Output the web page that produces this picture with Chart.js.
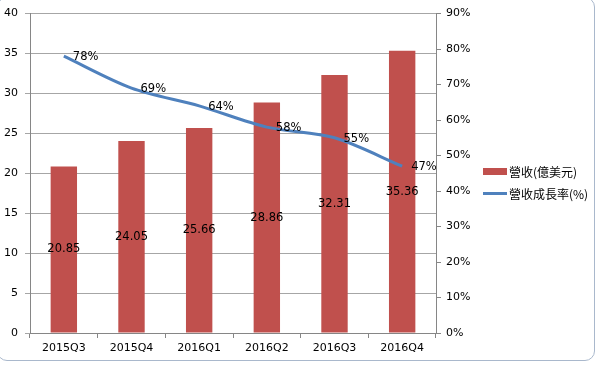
<!DOCTYPE html>
<html>
<head>
<meta charset="utf-8">
<script src="https://cdn.jsdelivr.net/npm/chart.js@4/dist/chart.umd.min.js"></script>
<style>
  html, body { margin: 0; padding: 0; background: #fff; }
  #wrap { position: relative; width: 600px; height: 365px; overflow: hidden; }
  #frame { position: absolute; left: -3px; top: -3px; width: 598px; height: 364px;
           border: 1px solid #a9b8cc; border-radius: 10px; box-sizing: border-box; pointer-events: none; }
  #legend { position: absolute; left: 483px; top: 160px; font-family: "Noto Sans CJK TC", sans-serif;
            font-size: 12px; color: #000; }
  .item { display: flex; align-items: center; height: 22px; }
  .swatch { width: 24px; margin-right: 2px; }
</style>
</head>
<body>
<div id="wrap">
  <canvas id="myChart" width="600" height="365"></canvas>
  <div id="legend">
    <div class="item"><span class="swatch" style="height:7px;background:#C0504D"></span>營收(億美元)</div>
    <div class="item"><span class="swatch" style="height:3px;background:#4F81BD"></span>營收成長率(%)</div>
  </div>
  <div id="frame"></div>
</div>
<script>
const quarters = ["2015Q3", "2015Q4", "2016Q1", "2016Q2", "2016Q3", "2016Q4"];
const revenue = [20.85, 24.05, 25.66, 28.86, 32.31, 35.36];
const growth = [78, 69, 64, 58, 55, 47];

const tickFont = { family: "DejaVu Sans", size: 11 };

// value labels like the excel original (bars: centred, line: right of point)
const labelPlugin = {
    id: "labels",
    afterDatasetsDraw(chart) {
        const ctx = chart.ctx;
        ctx.save();
        ctx.font = "11.5px 'DejaVu Sans'";
        ctx.fillStyle = "#000";
        ctx.textBaseline = "middle";

        chart.getDatasetMeta(1).data.forEach((bar, i) => {
            ctx.textAlign = "center";
            ctx.fillText(revenue[i].toFixed(2), bar.x, (bar.y + bar.base) / 2);
        });
        chart.getDatasetMeta(0).data.forEach((pt, i) => {
            ctx.textAlign = "left";
            ctx.fillText(growth[i] + "%", pt.x + 9, pt.y + 1);
        });
        ctx.restore();
    }
};

const ctx = document.getElementById("myChart").getContext("2d");
new Chart(ctx, {
    data: {
        labels: quarters,
        datasets: [
            {
                type: "line",
                label: "營收成長率(%)",
                data: growth,
                yAxisID: "y1",
                borderColor: "#4F81BD",
                borderWidth: 3,
                pointRadius: 0,
                tension: 0.3,
                order: 0
            },
            {
                type: "bar",
                label: "營收(億美元)",
                data: revenue,
                yAxisID: "y",
                backgroundColor: "#C0504D",
                categoryPercentage: 1,
                barPercentage: 0.39,
                order: 1
            }
        ]
    },
    options: {
        responsive: false,
        animation: false,
        layout: { padding: { top: 12, right: 0, left: 0, bottom: 0 } },
        plugins: { legend: { display: false }, tooltip: { enabled: false } },
        scales: {
            x: {
                afterFit: s => { s.height = 32; },
                grid: { drawOnChartArea: false, offset: true, tickLength: 5, color: "#868686" },
                border: { color: "#868686" },
                ticks: { font: tickFont, color: "#000", padding: 4, maxRotation: 0 }
            },
            y: {
                position: "left",
                min: 0, max: 40,
                afterFit: s => { s.width = 30; },
                grid: { color: "#a6a6a6", tickLength: 5 },
                border: { color: "#868686" },
                ticks: { stepSize: 5, font: tickFont, color: "#000", padding: 7 }
            },
            y1: {
                position: "right",
                min: 0, max: 90,
                afterFit: s => { s.width = 164; },
                grid: { drawOnChartArea: false, tickLength: 5, color: "#868686" },
                border: { color: "#868686" },
                ticks: { stepSize: 10, font: tickFont, color: "#000", padding: 5,
                         callback: v => v + "%" }
            }
        }
    },
    plugins: [labelPlugin]
});
</script>
</body>
</html>
